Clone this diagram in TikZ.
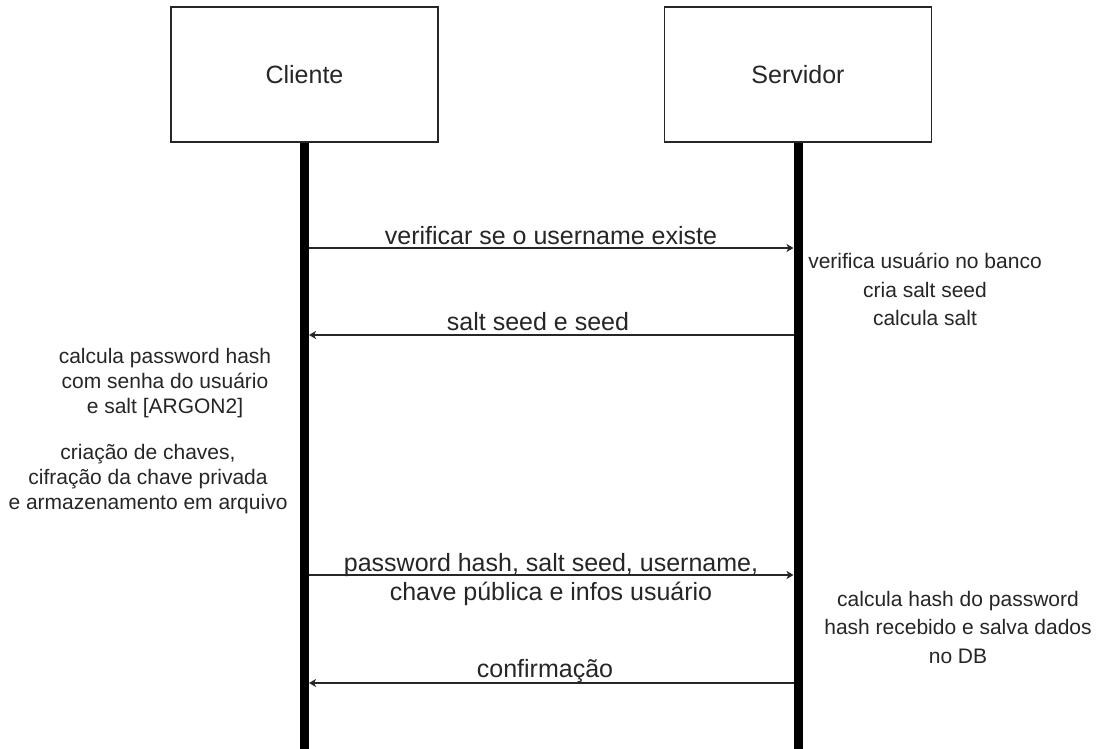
\documentclass[tikz,border=0pt]{standalone}
\usepackage{fontspec}
\setmainfont{Liberation Sans}
\usetikzlibrary{arrows.meta}
\begin{document}
\begin{tikzpicture}[x=1pt,y=-1pt,
  actor/.style={draw=black!85, line width=1.2pt, minimum width=267pt, minimum height=135pt,
    inner sep=0pt, font=\fontsize{25}{30}\selectfont, text=black!85},
  lifeline/.style={line width=9pt, black},
  msg/.style={draw=black!85, line width=1.3pt, -{Stealth[length=7pt,width=8pt,inset=2pt]}},
  msglabel/.style={anchor=base, inner sep=0pt, font=\fontsize{25}{29}\selectfont, text=black!85},
  msgblock/.style={align=center, inner sep=0pt, font=\fontsize{25}{29}\selectfont, text=black!85},
  note/.style={align=center, inner sep=0pt, font=\fontsize{21}{25}\selectfont, text=black!85},
  rnote/.style={align=center, inner sep=0pt, font=\fontsize{21}{28.5}\selectfont, text=black!85}]
\useasboundingbox (0,0) rectangle (1100,749);
\fill[white] (0,0) rectangle (1100,749);

% participants
\node[actor] (cli) at (304.5,74.5) {Cliente};
\node[actor] (srv) at (798,74.5) {Servidor};

% lifelines
\coordinate (cliEnd) at (304.5,749);
\coordinate (srvEnd) at (798,749);
\draw[lifeline] (cli.south) -- (cliEnd);
\draw[lifeline] (srv.south) -- (srvEnd);

% message end points on the lifelines
\coordinate (c1) at (309,248);   \coordinate (s1) at (793.5,248);
\coordinate (c2) at (309,335);   \coordinate (s2) at (793.5,335);
\coordinate (c3) at (309,575);   \coordinate (s3) at (793.5,575);
\coordinate (c4) at (309,683);   \coordinate (s4) at (793.5,683);

% messages
\draw[msg] (c1) -- (s1);
\node[msglabel] (l1) at (551,244) {verificar se o username existe};

\draw[msg] (s2) -- (c2);
\node[msglabel] (l2) at (538,330) {salt seed e seed};

\draw[msg] (c3) -- (s3);
\node[msgblock] (l3) at (551,580) {password hash, salt seed, username,\\chave pública e infos usuário};

\draw[msg] (s4) -- (c4);
\node[msglabel] (l4) at (545,677) {confirmação};

% processing notes
\node[rnote] (n1) at (925,289.5) {verifica usuário no banco\\cria salt seed\\calcula salt};
\node[note] (n2) at (165,383) {calcula password hash\\com senha do usuário\\e salt [ARGON2]};
\node[note] (n3) at (148,479) {criação de chaves,\\cifração da chave privada\\e armazenamento em arquivo};
\node[rnote] (n4) at (958,627) {calcula hash do password\\hash recebido e salva dados\\no DB};
\end{tikzpicture}
\end{document}
